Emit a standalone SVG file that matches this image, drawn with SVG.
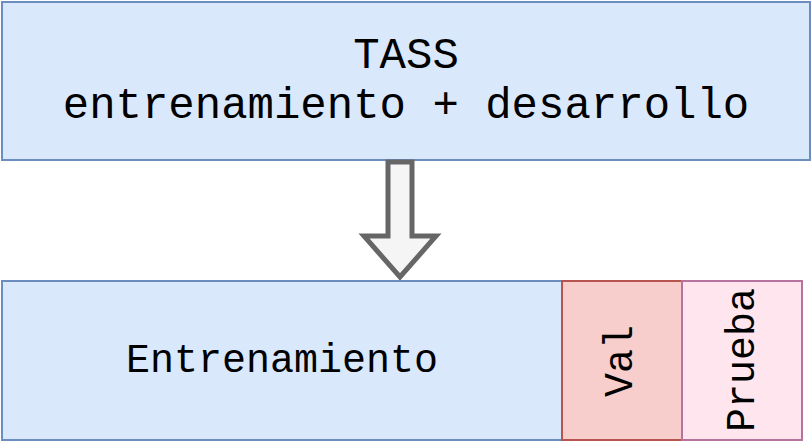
<svg xmlns="http://www.w3.org/2000/svg" width="812" height="444" viewBox="0 0 812 444">
<style>
.t{font-family:"Liberation Mono","Courier New",monospace;fill:#000;text-anchor:middle}
.blue{fill:#dae8fc;stroke:#6c8ebf;stroke-width:2}
</style>
<rect width="812" height="444" fill="#fff"/>
<g id="tass">
<rect class="blue" x="2" y="2" width="808" height="158"/>
<text class="t" x="406" y="68" font-size="44">TASS</text>
<text class="t" x="406" y="118" font-size="44">entrenamiento + desarrollo</text>
</g>
<g id="connectors">
<path d="M388,162 L412,162 L412,236 L436,236 L400,277 L364,236 L388,236 Z" fill="#f5f5f5" stroke="#666666" stroke-width="5" stroke-linejoin="miter"/>
</g>
<g id="entrenamiento">
<rect class="blue" x="2" y="281" width="560" height="159"/>
<text class="t" x="282" y="372" font-size="40">Entrenamiento</text>
</g>
<g id="val">
<rect x="562" y="281" width="120" height="159" fill="#f8cecc" stroke="#b85450" stroke-width="2"/>
<text class="t" font-size="40" transform="translate(632,361) rotate(-90)">Val</text>
</g>
<g id="prueba">
<rect x="682" y="281" width="120" height="159" fill="#ffe6ee" stroke="#b5739d" stroke-width="2"/>
<text class="t" font-size="40" transform="translate(754,360) rotate(-90)">Prueba</text>
</g>
</svg>
